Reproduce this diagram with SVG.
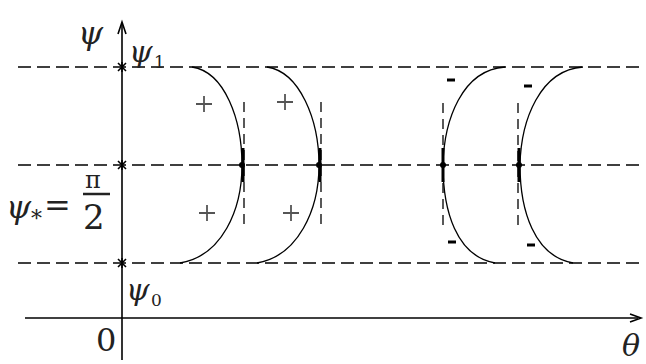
<svg xmlns="http://www.w3.org/2000/svg" width="646" height="364" viewBox="0 0 646 364">
<style>
.dash{stroke:#000;stroke-width:1.6;stroke-dasharray:13 6;fill:none}
.vdash{stroke:#000;stroke-width:1.3;stroke-dasharray:10 6;fill:none}
.ax{stroke:#000;stroke-width:1.6;fill:none}
.cv{stroke:#000;stroke-width:1.3;fill:none}
.thick{stroke:#000;stroke-width:3;fill:none}
.sym{stroke:#555;stroke-width:1.8;fill:none}
.mn{stroke:#000;stroke-width:3;fill:none}
.it{font-style:italic}
</style>
<rect width="646" height="364" fill="#fff"/>
<g id="grid">
<line class="dash" x1="18" y1="67" x2="640" y2="67"/>
<line class="dash" x1="18" y1="165" x2="640" y2="165"/>
<line class="dash" x1="18" y1="263" x2="640" y2="263"/>
</g>
<g id="axes">
<line class="ax" x1="122" y1="360" x2="122" y2="24"/>
<path class="ax" d="M118 34 L122 22 L126 34" stroke-width="1.2"/>
<line class="ax" x1="25" y1="318" x2="638" y2="318"/>
<path class="ax" d="M630 314 L641 318 L630 322" stroke-width="1.2"/>
<path class="ax" d="M118 63 L126 71 M126 63 L118 71 M122 62 L122 72" stroke-width="1.3"/>
<path class="ax" d="M118 161 L126 169 M126 161 L118 169 M122 160 L122 170" stroke-width="1.3"/>
<path class="ax" d="M118 259 L126 267 M126 259 L118 267 M122 258 L122 268" stroke-width="1.3"/>
</g>
<g id="curve1">
<path class="cv" d="M192 67 C225 72 242 120 242 165 C242 210 222 256 180 263"/>
<line class="vdash" x1="244" y1="102" x2="244" y2="226"/>
<line class="thick" x1="243" y1="148" x2="243" y2="182"/>
<circle cx="242" cy="165" r="3" fill="#000"/>
<path class="sym" d="M196 104 H212 M204 96 V112"/>
<path class="sym" d="M199 213 H215 M207 205 V221"/>
</g>
<g id="curve2">
<path class="cv" d="M267 67 C300 72 319 120 319 165 C319 210 298 256 257 263"/>
<line class="vdash" x1="321" y1="102" x2="321" y2="226"/>
<line class="thick" x1="320" y1="148" x2="320" y2="182"/>
<circle cx="319" cy="165" r="3" fill="#000"/>
<path class="sym" d="M277 102 H293 M285 94 V110"/>
<path class="sym" d="M283 213 H299 M291 205 V221"/>
</g>
<g id="curve3">
<path class="cv" d="M505 67 C462 70 444 120 443 165 C443 210 456 256 495 263"/>
<line class="vdash" x1="443" y1="103" x2="443" y2="227"/>
<line class="thick" x1="443" y1="148" x2="443" y2="182"/>
<circle cx="443" cy="165" r="3" fill="#000"/>
<line class="mn" x1="447" y1="80" x2="455" y2="80"/>
<line class="mn" x1="448" y1="242" x2="456" y2="242"/>
</g>
<g id="curve4">
<path class="cv" d="M583 67 C540 70 521 120 520 165 C520 210 534 256 573 263"/>
<line class="vdash" x1="518" y1="103" x2="518" y2="227"/>
<line class="thick" x1="519" y1="148" x2="519" y2="182"/>
<circle cx="519" cy="165" r="3" fill="#000"/>
<line class="mn" x1="524" y1="86" x2="532" y2="86"/>
<line class="mn" x1="527" y1="245" x2="535" y2="245"/>
</g>
<g id="labels" font-family="DejaVu Serif, Liberation Serif, serif" fill="#222">
<text class="it" x="78" y="44" font-size="32">ψ</text>
<text class="it" x="129" y="62" font-size="30">ψ</text>
<text x="154" y="68" font-size="17">1</text>
<text class="it" x="6" y="218" font-size="32">ψ</text>
<text x="31" y="226" font-size="22">*</text>
<text x="44" y="216" font-size="32">=</text>
<text x="85" y="188" font-size="24">π</text>
<line x1="83" y1="194" x2="110" y2="194" stroke="#222" stroke-width="2.5"/>
<text x="83" y="229" font-size="34">2</text>
<text class="it" x="126" y="300" font-size="30">ψ</text>
<text x="151" y="306" font-size="17">0</text>
<text x="96" y="351" font-size="32">0</text>
<text class="it" x="622" y="356" font-size="30">θ</text>
</g>
</svg>
